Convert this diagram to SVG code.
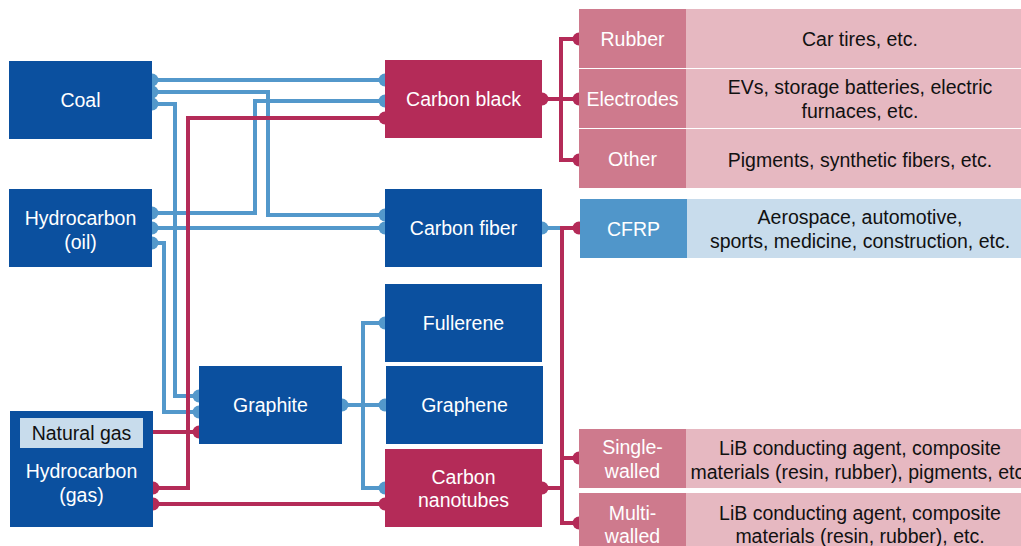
<svg xmlns="http://www.w3.org/2000/svg" width="1021" height="546" viewBox="0 0 1021 546">
  <style>
    text { font-family: "Liberation Sans", Arial, sans-serif; font-size: 19.5px; text-anchor: middle; }
    .node { fill: #0B509F; }
    .hot { fill: #B42B58; }
    .lbl { fill: #FFFFFF; }
    .use { fill: #CE7A8D; }
    .usedesc { fill: #E6B8C1; }
    .cfrp { fill: #5096CA; }
    .cfrpdesc { fill: #C8DCEC; }
    .dark { fill: #111111; }
    .wb { fill: none; stroke: #5398CB; stroke-width: 4; stroke-linejoin: miter; }
    .wr { fill: none; stroke: #B42B58; stroke-width: 4; stroke-linejoin: miter; }
    .db { fill: #5398CB; }
    .dr { fill: #B42B58; }
  </style>

  <!-- connectors -->
  <g id="connectors">
    <!-- Coal outputs -->
    <path class="wb" d="M152 80 H385"/>
    <path class="wb" d="M152 92 H268 V215 H385"/>
    <path class="wb" d="M152 104 H175 V396 H199"/>
    <!-- Hydrocarbon (oil) outputs -->
    <path class="wb" d="M152 213 H255 V101 H385"/>
    <path class="wb" d="M152 228 H385"/>
    <path class="wb" d="M152 243 H164 V412 H199"/>
    <!-- Hydrocarbon (gas) outputs -->
    <path class="wr" d="M153 488 H188 V118 H385"/>
    <path class="wr" d="M143 432 H199"/>
    <path class="wr" d="M153 504 H385"/>
    <!-- Graphite outputs -->
    <path class="wb" d="M342 405 H385"/>
    <path class="wb" d="M385 323 H363 V488 H385"/>
    <!-- Carbon black uses -->
    <path class="wr" d="M542 99 H579"/>
    <path class="wr" d="M579 39 H561 V160 H579"/>
    <!-- Carbon fiber / nanotube uses -->
    <path class="wb" d="M542 228 H562"/>
    <path class="wr" d="M579 228 H562 V523 H579"/>
    <path class="wr" d="M542 488 H562"/>
    <path class="wr" d="M562 458 H579"/>

    <!-- end dots -->
    <g class="db">
      <circle cx="152" cy="80" r="6.5"/>
      <circle cx="152" cy="92" r="6.5"/>
      <circle cx="152" cy="104" r="6.5"/>
      <circle cx="152" cy="213" r="6.5"/>
      <circle cx="152" cy="228" r="6.5"/>
      <circle cx="152" cy="243" r="6.5"/>
      <circle cx="385" cy="80" r="6.5"/>
      <circle cx="385" cy="101" r="6.5"/>
      <circle cx="385" cy="215" r="6.5"/>
      <circle cx="385" cy="228" r="6.5"/>
      <circle cx="199" cy="396" r="6.5"/>
      <circle cx="199" cy="412" r="6.5"/>
      <circle cx="342" cy="405" r="6.5"/>
      <circle cx="385" cy="323" r="6.5"/>
      <circle cx="385" cy="405" r="6.5"/>
      <circle cx="385" cy="488" r="6.5"/>
      <circle cx="542" cy="228" r="6.5"/>
    </g>
    <g class="dr">
      <circle cx="385" cy="118" r="6.5"/>
      <circle cx="143" cy="432" r="6.5"/>
      <circle cx="199" cy="432" r="6.5"/>
      <circle cx="153" cy="488" r="6.5"/>
      <circle cx="153" cy="504" r="6.5"/>
      <circle cx="385" cy="504" r="6.5"/>
      <circle cx="542" cy="99" r="6.5"/>
      <circle cx="579" cy="39" r="6.5"/>
      <circle cx="579" cy="99" r="6.5"/>
      <circle cx="579" cy="160" r="6.5"/>
      <circle cx="579" cy="228" r="6.5"/>
      <circle cx="542" cy="488" r="6.5"/>
      <circle cx="579" cy="458" r="6.5"/>
      <circle cx="579" cy="523" r="6.5"/>
    </g>
  </g>

  <!-- raw materials -->
  <g id="coal">
    <rect class="node" x="9" y="61" width="143" height="78"/>
    <text class="lbl" x="80.5" y="107">Coal</text>
  </g>
  <g id="oil">
    <rect class="node" x="9" y="189" width="143" height="78"/>
    <text class="lbl" x="80.5" y="225">Hydrocarbon</text>
    <text class="lbl" x="80.5" y="249">(oil)</text>
  </g>
  <g id="gas">
    <rect class="node" x="10" y="411" width="143" height="116"/>
    <rect class="cfrpdesc" x="20" y="418" width="123" height="30"/>
    <text class="dark" x="81.5" y="440">Natural gas</text>
    <text class="lbl" x="81.5" y="478">Hydrocarbon</text>
    <text class="lbl" x="81.5" y="502">(gas)</text>
  </g>
  <g id="graphite">
    <rect class="node" x="199" y="366" width="143" height="78"/>
    <text class="lbl" x="270.5" y="412">Graphite</text>
  </g>

  <!-- carbon materials -->
  <g id="carbon-black">
    <rect class="hot" x="385" y="60" width="157" height="78"/>
    <text class="lbl" x="463.5" y="106">Carbon black</text>
  </g>
  <g id="carbon-fiber">
    <rect class="node" x="385" y="189" width="157" height="78"/>
    <text class="lbl" x="463.5" y="235">Carbon fiber</text>
  </g>
  <g id="fullerene">
    <rect class="node" x="385" y="284" width="157" height="78"/>
    <text class="lbl" x="463.5" y="330">Fullerene</text>
  </g>
  <g id="graphene">
    <rect class="node" x="386" y="366" width="157" height="78"/>
    <text class="lbl" x="464.5" y="412">Graphene</text>
  </g>
  <g id="nanotubes">
    <rect class="hot" x="385" y="449" width="157" height="78"/>
    <text class="lbl" x="463.5" y="484">Carbon</text>
    <text class="lbl" x="463.5" y="507">nanotubes</text>
  </g>

  <!-- applications -->
  <g id="rubber">
    <rect class="use" x="579" y="9" width="107" height="59"/>
    <rect class="usedesc" x="686" y="9" width="350" height="59"/>
    <text class="lbl" x="632.5" y="46">Rubber</text>
    <text class="dark" x="860" y="46">Car tires, etc.</text>
  </g>
  <g id="electrodes">
    <rect class="use" x="579" y="69" width="107" height="59"/>
    <rect class="usedesc" x="686" y="69" width="350" height="59"/>
    <text class="lbl" x="632.5" y="106">Electrodes</text>
    <text class="dark" x="860" y="94">EVs, storage batteries, electric</text>
    <text class="dark" x="860" y="118">furnaces, etc.</text>
  </g>
  <g id="other">
    <rect class="use" x="579" y="129" width="107" height="59"/>
    <rect class="usedesc" x="686" y="129" width="350" height="59"/>
    <text class="lbl" x="632.5" y="166">Other</text>
    <text class="dark" x="860" y="167">Pigments, synthetic fibers, etc.</text>
  </g>
  <g id="cfrp">
    <rect class="cfrp" x="580" y="199" width="107" height="59"/>
    <rect class="cfrpdesc" x="687" y="199" width="349" height="59"/>
    <text class="lbl" x="633.5" y="236">CFRP</text>
    <text class="dark" x="860" y="224">Aerospace, automotive,</text>
    <text class="dark" x="860" y="248">sports, medicine, construction, etc.</text>
  </g>
  <g id="single-walled">
    <rect class="use" x="579" y="429" width="107" height="59"/>
    <rect class="usedesc" x="686" y="429" width="350" height="59"/>
    <text class="lbl" x="632.5" y="454">Single-</text>
    <text class="lbl" x="632.5" y="478">walled</text>
    <text class="dark" x="860" y="455">LiB conducting agent, composite</text>
    <text class="dark" x="860" y="479">materials (resin, rubber), pigments, etc.</text>
  </g>
  <g id="multi-walled">
    <rect class="use" x="579" y="493" width="107" height="59"/>
    <rect class="usedesc" x="686" y="493" width="350" height="59"/>
    <text class="lbl" x="632.5" y="520">Multi-</text>
    <text class="lbl" x="632.5" y="543">walled</text>
    <text class="dark" x="860" y="520">LiB conducting agent, composite</text>
    <text class="dark" x="860" y="543">materials (resin, rubber), etc.</text>
  </g>
</svg>
